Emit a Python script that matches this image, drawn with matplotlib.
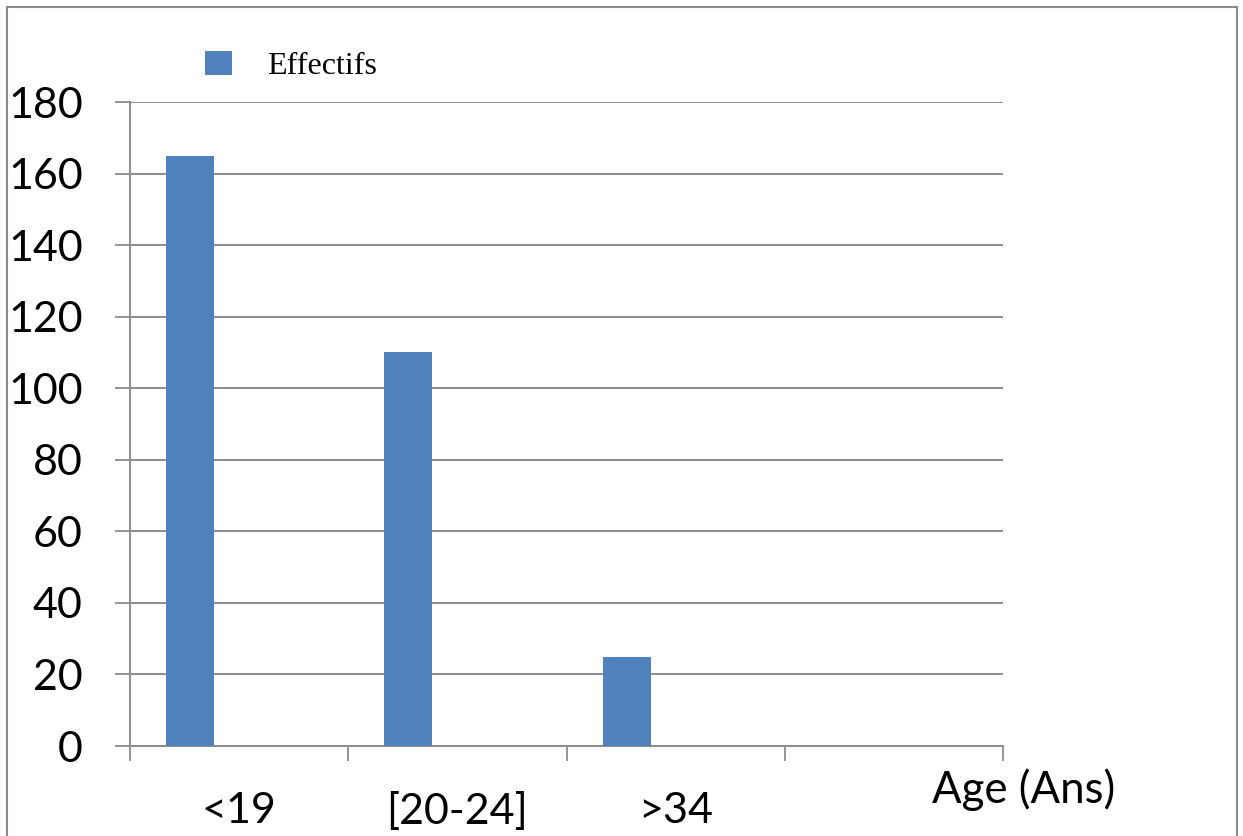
import numpy as np
import matplotlib
matplotlib.use('Agg')
import matplotlib.pyplot as plt
from matplotlib.patches import Rectangle, Patch

#----------------------------------------------------------------
# data
categories = ['<19', '[20-24]', '>34', '']
effectifs  = [165, 110, 25, 0]
yticks     = list(range(0, 181, 20))
serie_name = 'Effectifs'
x_title    = 'Age (Ans)'
#----------------------------------------------------------------
bleu  = '#4F81BD'
gris  = '#8C8C8C'
W, H  = 1243, 836

plt.rcParams['font.family'] = ['Lato', 'DejaVu Sans']

fig = plt.figure(figsize=(W/100., H/100.), dpi=100)
ax  = fig.add_axes([130./W, 1-746./H, (1003.-130.)/W, (746.-102.)/H])

pos = np.arange(len(categories))
ax.bar(pos - 0.225, effectifs, width=0.22, color=bleu, zorder=3)

ax.set_xlim(-0.5, len(categories) - 0.5)
ax.set_ylim(0, 180)

# y axis
ax.set_yticks(yticks)
ax.set_yticklabels([str(v) for v in yticks], fontsize=31)
ax.tick_params(axis='y', length=11, width=1.3, color=gris, pad=23)
ax.yaxis.grid(True, color=gris, linewidth=1.4, zorder=0)

# x axis : ticks at slot limits, labels at slot centers
ax.set_xticks(np.arange(-0.5, len(categories), 1.0))
ax.set_xticklabels([])
ax.set_xticks(pos, minor=True)
ax.set_xticklabels(categories, minor=True, fontsize=31)
ax.tick_params(axis='x', which='major', length=11, width=1.3, color=gris)
ax.tick_params(axis='x', which='minor', length=0, pad=33)

for s in ['top', 'right']:
	ax.spines[s].set_visible(False)
for s in ['left', 'bottom']:
	ax.spines[s].set_color(gris)
	ax.spines[s].set_linewidth(1.4)

fig.text(932./W, 1-790./H, x_title, fontsize=31.5, ha='left', va='center')

# legend
handle = Patch(facecolor=bleu, edgecolor='none')
fig.legend([handle], [serie_name], loc='center left',
	bbox_to_anchor=(205./W, 1-66./H), frameon=False,
	prop={'family': 'Liberation Serif', 'size': 23},
	handlelength=0.85, handleheight=0.8, handletextpad=1.1,
	borderpad=0, borderaxespad=0)

# outer frame
fig.patches.append(Rectangle((7./W, -0.05), (1237.-7.)/W, 1.05 - 7./H,
	transform=fig.transFigure, fill=False, edgecolor=gris, linewidth=1.5))

fig.savefig('out.png', dpi=100)
